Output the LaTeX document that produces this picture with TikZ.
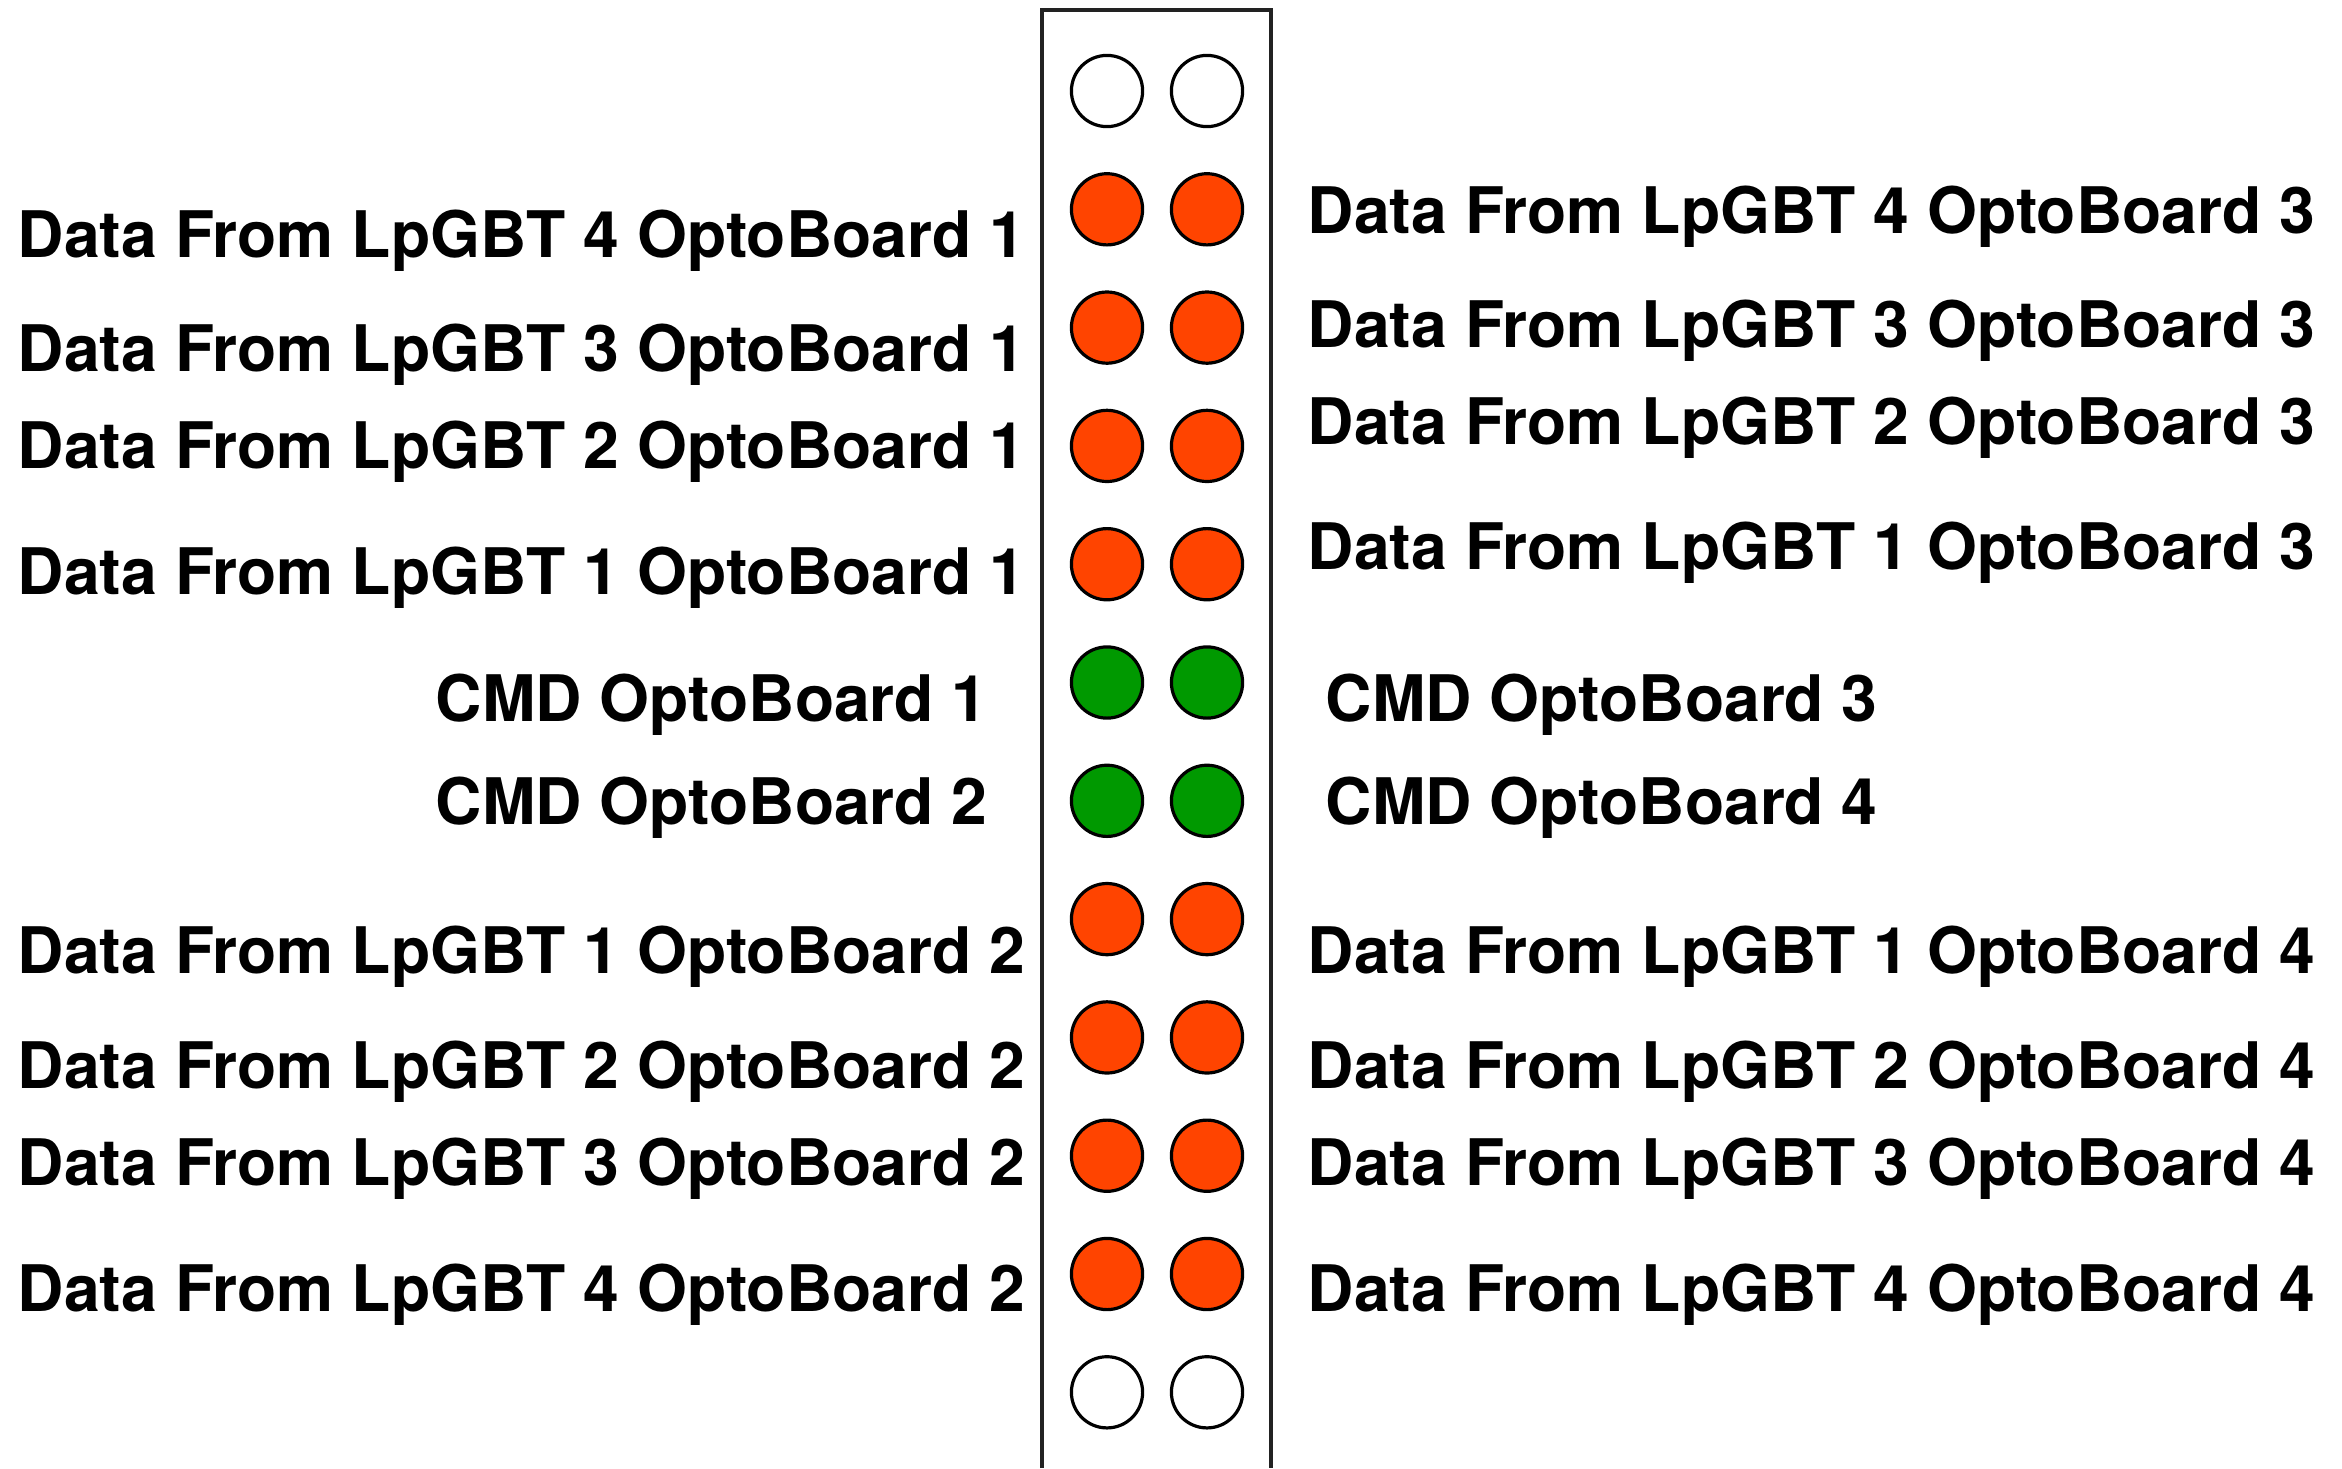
\documentclass[tikz,border=0pt]{standalone}
\usepackage{fontspec}
\setmainfont{TeX Gyre Heros}
\definecolor{orng}{RGB}{255,68,0}
\definecolor{grn}{RGB}{0,153,0}
\definecolor{edge}{RGB}{34,34,34}
\tikzset{
  hole/.style={circle, draw=black, line width=0.8pt, minimum size=17.8pt, inner sep=0pt},
  lbl/.style={inner sep=0pt, font=\fontsize{16.05pt}{19pt}\selectfont\bfseries, text=black},
  lleft/.style={lbl, anchor=base west},
  panel/.style={draw=edge, line width=1pt}
}
\begin{document}
\begin{tikzpicture}[x=0.25pt, y=-0.25pt]
\useasboundingbox (0,0) rectangle (2342,1468);
\fill[white] (0,0) rectangle (2342,1468);
% panel
\draw[panel] (1042,1468) -- (1042,10) -- (1271,10) -- (1271,1468);
% holes
\foreach \i/\col in {0/white,1/orng,2/orng,3/orng,4/orng,5/grn,6/grn,7/orng,8/orng,9/orng,10/orng,11/white}{
  \node[hole, fill=\col] (hl\i) at (1107,{91+118.3*\i}) {};
  \node[hole, fill=\col] (hr\i) at (1207,{91+118.3*\i}) {};
}
% left labels
\node[lleft] (L1) at (17,257) {Data From LpGBT 4 OptoBoard 1};
\node[lleft] (L2) at (17,371) {Data From LpGBT 3 OptoBoard 1};
\node[lleft] (L3) at (17,468) {Data From LpGBT 2 OptoBoard 1};
\node[lleft] (L4) at (17,594) {Data From LpGBT 1 OptoBoard 1};
\node[lleft] (L5) at (435,721) {CMD OptoBoard 1};
\node[lleft] (L6) at (435,824) {CMD OptoBoard 2};
\node[lleft] (L7) at (17,973) {Data From LpGBT 1 OptoBoard 2};
\node[lleft] (L8) at (17,1088) {Data From LpGBT 2 OptoBoard 2};
\node[lleft] (L9) at (17,1185) {Data From LpGBT 3 OptoBoard 2};
\node[lleft] (L10) at (17,1311) {Data From LpGBT 4 OptoBoard 2};
% right labels
\node[lleft] (R1) at (1307,233) {Data From LpGBT 4 OptoBoard 3};
\node[lleft] (R2) at (1307,347) {Data From LpGBT 3 OptoBoard 3};
\node[lleft] (R3) at (1307,444) {Data From LpGBT 2 OptoBoard 3};
\node[lleft] (R4) at (1307,569) {Data From LpGBT 1 OptoBoard 3};
\node[lleft] (R5) at (1325,721) {CMD OptoBoard 3};
\node[lleft] (R6) at (1325,824) {CMD OptoBoard 4};
\node[lleft] (R7) at (1307,973) {Data From LpGBT 1 OptoBoard 4};
\node[lleft] (R8) at (1307,1088) {Data From LpGBT 2 OptoBoard 4};
\node[lleft] (R9) at (1307,1185) {Data From LpGBT 3 OptoBoard 4};
\node[lleft] (R10) at (1307,1311) {Data From LpGBT 4 OptoBoard 4};
\end{tikzpicture}
\end{document}
